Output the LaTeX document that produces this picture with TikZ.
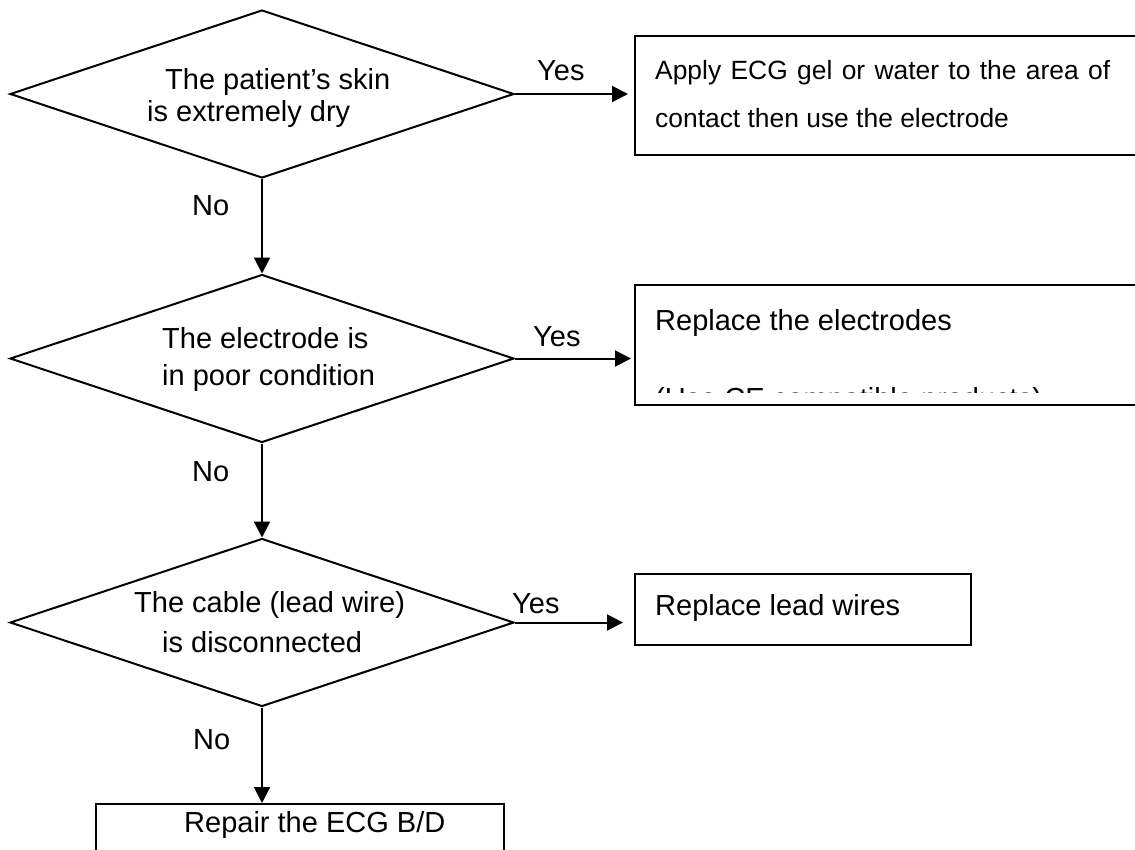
\documentclass[tikz,border=0pt]{standalone}
\usepackage{fontspec}
\setmainfont{Liberation Sans}
\usetikzlibrary{shapes.geometric,arrows.meta}

\tikzset{
  decision/.style={draw, line width=2pt, shape=diamond, inner sep=0pt,
    minimum width=504pt, minimum height=168pt},
  actionbox/.style={draw, line width=2pt, shape=rectangle, inner sep=0pt, anchor=north west},
  txt/.style={inner sep=0pt, anchor=base west, font=\fontsize{29}{32}\selectfont},
  flow/.style={line width=2pt, -{Triangle[length=16pt,width=16pt]}},
}

\begin{document}
\begin{tikzpicture}[x=1pt, y=-1pt]
  \clip (0,0) rectangle (1135,849);
  \fill[white] (0,0) rectangle (1135,849);

  % decisions
  \node[decision] (d1) at (262,94) {};
  \node[decision] (d2) at (262,358.5) {};
  \node[decision] (d3) at (262,622.5) {};

  \node[txt] (d1a) at (165,89) {The patient’s skin};
  \node[txt] (d1b) at (147,121) {is extremely dry};
  \node[txt] (d2a) at (162,348) {The electrode is};
  \node[txt] (d2b) at (162,385) {in poor condition};
  \node[txt] (d3a) at (134,612) {The cable (lead wire)};
  \node[txt] (d3b) at (162,652) {is disconnected};

  % actions
  \node[actionbox, minimum width=530pt, minimum height=119pt] (b1) at (634,35) {};
  \node[actionbox, minimum width=530pt, minimum height=120pt] (b2) at (634,284) {};
  \node[actionbox, minimum width=336pt, minimum height=71pt] (b3) at (634,573) {};
  \node[actionbox, minimum width=408pt, minimum height=80pt] (b4) at (95,803) {};

  \node[inner sep=0pt, anchor=base west, text width=455pt, align=justify,
        font=\fontsize{26.4}{48}\selectfont] (b1t) at (655,79)
    {Apply ECG gel or water to the area of contact then use the electrode};

  \node[txt] (b2a) at (655,330) {Replace the electrodes};
  \begin{scope}
    \clip (634,284) rectangle (1135,392);
    \node[txt] (b2b) at (655,408) {(Use CE compatible products)};
  \end{scope}

  \node[txt] (b3t) at (655,615) {Replace lead wires};
  \node[txt] (b4t) at (184,832) {Repair the ECG B/D};

  % connectors
  \draw[flow, shorten >=6pt] (d1.east) -- (d1.east -| b1.west);
  \draw[flow, shorten >=3pt] (d2.east) -- (d2.east -| b2.west);
  \draw[flow, shorten >=11pt] (d3.east) -- (d3.east -| b3.west);

  \draw[flow] (d1.south) -- (d2.north);
  \draw[flow] (d2.south) -- (d3.north);
  \draw[flow] (d3.south) -- (d3.south |- b4.north);

  % branch labels
  \node[txt] (y1) at (537,80) {Yes};
  \node[txt] (y2) at (533,346) {Yes};
  \node[txt] (y3) at (512,613) {Yes};
  \node[txt] (n1) at (192,215) {No};
  \node[txt] (n2) at (192,481) {No};
  \node[txt] (n3) at (193,749) {No};
\end{tikzpicture}
\end{document}
